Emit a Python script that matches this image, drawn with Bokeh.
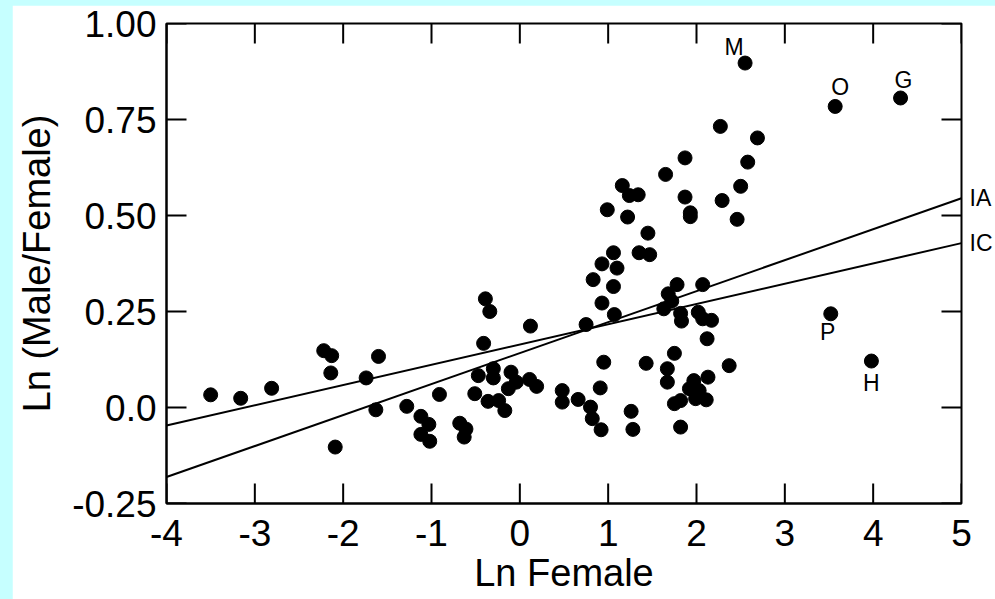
import math
from bokeh.plotting import figure
from bokeh.models import FixedTicker, LinearAxis, ColumnDataSource
from bokeh.embed import file_html
from bokeh.resources import INLINE
from bokeh.core.properties import value

# ---------------- data ----------------
x_ticks = [-4, -3, -2, -1, 0, 1, 2, 3, 4, 5]
x_tick_labels = ["-4", "-3", "-2", "-1", "0", "1", "2", "3", "4", "5"]
y_ticks = [-0.25, 0.0, 0.25, 0.5, 0.75, 1.0]
y_tick_labels = ["-0.25", "0.0", "0.25", "0.50", "0.75", "1.00"]

ln_female = [
    -3.50, -3.16, -2.81, -2.22, -2.13, -2.14, -2.09, -1.74, -1.60, -1.63, -1.28,
    -1.12, -1.03, -1.12, -1.02, -0.91, -0.68, -0.61, -0.63, -0.51, -0.47, -0.41,
    -0.39, -0.34, -0.36, -0.30, -0.30, -0.24, -0.17, -0.10, -0.04, -0.13, 0.11,
    0.19, 0.12,
    0.48, 0.48, 0.66, 0.75, 0.80, 0.82, 0.92, 0.95, 0.91, 0.93, 1.07,
    0.83, 1.06, 0.93, 1.10, 1.06, 1.35, 1.47, 1.45, 0.99, 1.22, 1.16, 1.24, 1.34,
    1.65, 1.87, 1.87, 1.93, 1.93, 2.29, 2.46, 2.50, 2.58, 2.27, 2.69, 2.55,
    1.78, 2.07, 1.68, 1.72, 1.63, 1.82, 1.83, 2.02, 2.07, 2.17, 2.12, 1.75, 1.43,
    1.67, 1.67, 2.37,
    1.97, 2.13, 2.03, 2.11, 1.99, 1.82, 1.75, 1.92, 1.82, 1.26, 1.28,
    3.57, 4.31, 3.52, 3.98,
]
ln_male_female = [
    0.033, 0.024, 0.050, 0.148, 0.135, 0.090, -0.103, 0.077, 0.133, -0.006, 0.003,
    -0.023, -0.044, -0.070, -0.088, 0.034, -0.041, -0.056, -0.077, 0.036, 0.083, 0.167,
    0.283, 0.250, 0.016, 0.101, 0.077, 0.018, -0.008, 0.092, 0.066, 0.049, 0.073,
    0.055, 0.212,
    0.044, 0.014, 0.021, 0.216, 0.001, -0.029, -0.058, 0.118, 0.051, 0.272, 0.242,
    0.333, 0.315, 0.374, 0.363, 0.403, 0.403, 0.398, 0.454, 0.515, 0.496, 0.578, 0.552, 0.554,
    0.607, 0.650, 0.548, 0.507, 0.497, 0.539, 0.490, 0.576, 0.639, 0.732, 0.702, 0.897,
    0.320, 0.320, 0.296, 0.277, 0.257, 0.245, 0.225, 0.248, 0.231, 0.227, 0.179, 0.141, 0.115,
    0.101, 0.066, 0.109,
    0.070, 0.079, 0.044, 0.020, 0.023, 0.018, 0.010, 0.049, -0.051, -0.010, -0.057,
    0.784, 0.806, 0.244, 0.121,
]

point_names = ["M", "O", "G", "P", "H"]
point_x = [2.55, 3.57, 4.31, 3.52, 3.98]
point_y = [0.897, 0.784, 0.806, 0.244, 0.121]
# label offsets in screen pixels (style; +y is downwards)
name_dx = [-11, 5, 3, -3, 0]
name_dy = [-16, -19, -18, 18, 22]

fit_names = ["IA", "IC"]
fit_x = [-4, 5]
fit_ia_y = [-0.181, 0.545]
fit_ic_y = [-0.047, 0.428]

FONT = "Liberation Sans"
x_lo, x_hi = x_ticks[0], x_ticks[-1]
y_lo, y_hi = y_ticks[0], y_ticks[-1]

# ---------------- figure ----------------
p = figure(width=983, height=594, x_range=(x_lo, x_hi), y_range=(y_lo, y_hi),
           output_backend="svg", toolbar_location=None,
           min_border_left=154, min_border_right=32, min_border_top=18, min_border_bottom=96,
           background_fill_color="white", border_fill_color="white")
p.grid.visible = False
p.outline_line_color = "black"
p.outline_line_width = 2

for ax in (p.xaxis[0], p.yaxis[0]):
    ax.major_tick_in = 0
    ax.major_tick_out = 0
    ax.minor_tick_line_color = None
    ax.major_tick_line_color = None
    ax.axis_line_width = 2
    ax.axis_line_color = "black"
    ax.major_label_text_font = FONT
    ax.major_label_text_font_size = "37px"
    ax.major_label_text_color = "black"
    ax.axis_label_text_font = FONT
    ax.axis_label_text_font_size = "38px"
    ax.axis_label_text_font_style = "normal"
    ax.axis_label_text_color = "black"

p.xaxis.ticker = FixedTicker(ticks=x_ticks)
p.yaxis.ticker = FixedTicker(ticks=y_ticks)
p.xaxis.major_label_overrides = {t: s for t, s in zip(x_ticks, x_tick_labels)}
p.yaxis.major_label_overrides = {t: s for t, s in zip(y_ticks, y_tick_labels)}
p.xaxis.axis_label = "Ln Female"
p.yaxis.axis_label = "Ln (Male/Female)"
p.xaxis.major_label_standoff = 16
p.xaxis.axis_label_standoff = 3
p.yaxis.major_label_standoff = 10
p.yaxis.axis_label_standoff = 11

# right-hand names of the two fitted lines, as an axis of labels
fit_axis = LinearAxis(ticker=FixedTicker(ticks=[fit_ia_y[1], fit_ic_y[1]]),
                      major_label_overrides={fit_ia_y[1]: fit_names[0], fit_ic_y[1]: fit_names[1]},
                      major_tick_in=0, major_tick_out=0, major_tick_line_color=None,
                      minor_tick_line_color=None, axis_line_color=None,
                      major_label_standoff=8, major_label_text_font=FONT,
                      major_label_text_font_size="23px", major_label_text_color="black")
p.add_layout(fit_axis, "right")

# inward tick marks on all four sides (half of each dash is clipped by the frame)
p.scatter(x_ticks, [y_lo] * len(x_ticks), marker="dash", size=40, angle=math.pi / 2,
          line_color="black", line_width=2)
p.scatter(x_ticks, [y_hi] * len(x_ticks), marker="dash", size=40, angle=math.pi / 2,
          line_color="black", line_width=2)
p.scatter([x_lo] * len(y_ticks), y_ticks, marker="dash", size=40,
          line_color="black", line_width=2)
p.scatter([x_hi] * len(y_ticks), y_ticks, marker="dash", size=40,
          line_color="black", line_width=2)

# fit lines
p.line(fit_x, fit_ia_y, line_color="black", line_width=2)
p.line(fit_x, fit_ic_y, line_color="black", line_width=2)

# points
p.scatter(ln_female, ln_male_female, size=14, color="black")

# point names
src = ColumnDataSource(dict(x=point_x, y=point_y, t=point_names, dx=name_dx, dy=name_dy))
p.text(x="x", y="y", text="t", x_offset="dx", y_offset="dy", source=src,
       text_font=value(FONT), text_font_size="23px", text_align="center",
       text_baseline="middle", text_color="black")

html = file_html(p, INLINE)
css = ("<style>html, body { background-color: #c6ffff !important; } "
       "body { padding: 5px 0 0 12px !important; margin: 0 !important; }</style>")
html = html.replace("</head>", css + "</head>", 1)
open("out.html", "w").write(html)
